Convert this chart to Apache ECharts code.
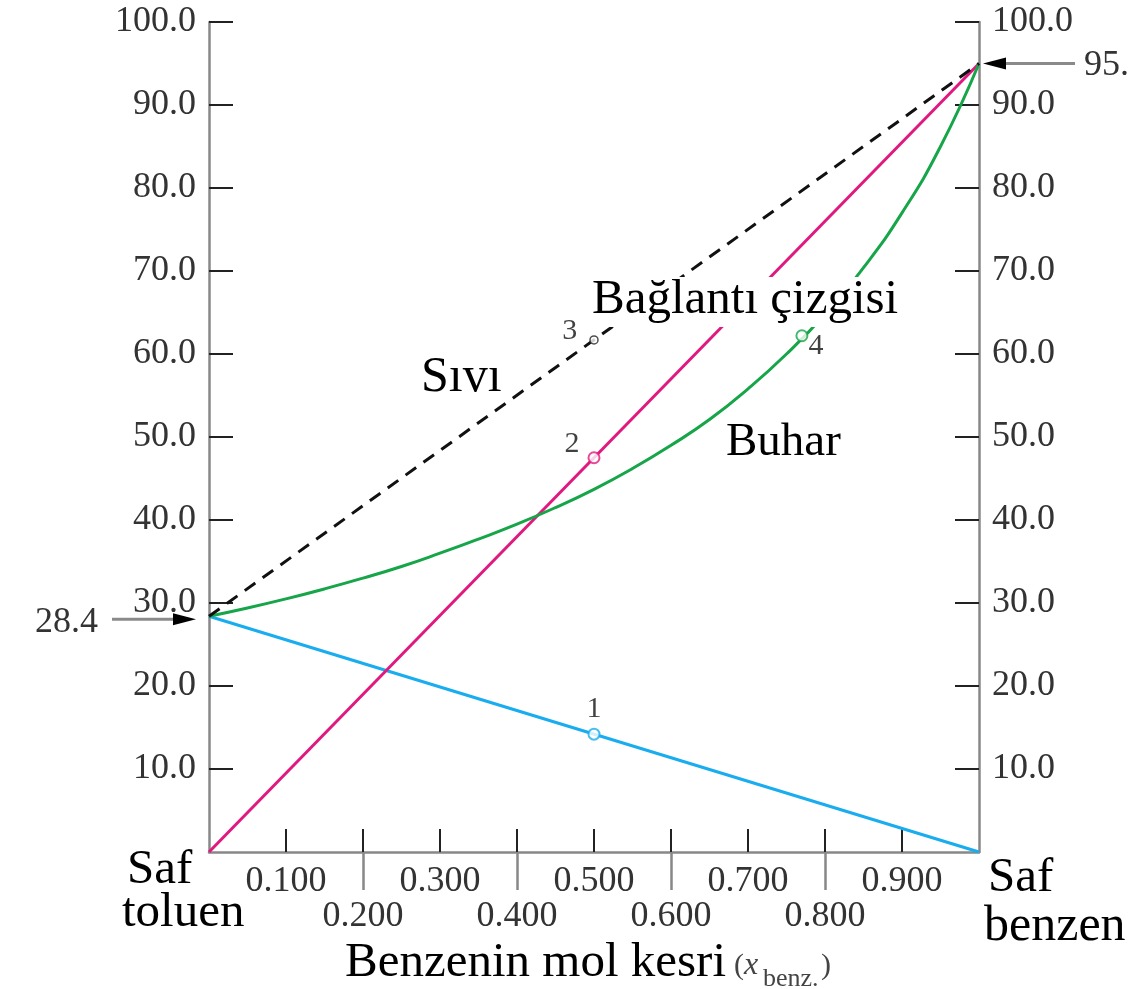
<!DOCTYPE html>
<html>
<head>
<meta charset="utf-8">
<script src="https://cdn.jsdelivr.net/npm/echarts@6/dist/echarts.min.js"></script>
<style>html,body{margin:0;padding:0;background:#fff}#c{width:1134px;height:989px}</style>
</head>
<body>
<div id="c"></div>
<script>
// ---- data ----
var liquidLine = [[0, 28.4], [1, 95]];          // total pressure (liquid, dashed)
var benzenePartial = [[0, 0], [1, 95]];          // pink
var toluenePartial = [[0, 28.4], [1, 0]];        // blue
var vaporCurve = [
  [0, 28.4], [0.05, 29.4], [0.1, 30.5], [0.15, 31.7], [0.2, 33.0], [0.25, 34.4],
  [0.3, 36.0], [0.35, 37.7], [0.4, 39.5], [0.45, 41.5], [0.5, 43.7], [0.55, 46.2],
  [0.6, 49.0], [0.65, 52.1], [0.7, 55.8], [0.75, 60.0], [0.8, 64.8], [0.85, 70.4],
  [0.9, 77.0], [0.95, 85.0], [1, 95]
];
var pointNames = ['1', '2', '3', '4'];
var pointValues = [[0.5, 14.2], [0.5, 47.5], [0.5, 61.7], [0.77, 62.2]];
var xTicks = [0.1, 0.2, 0.3, 0.4, 0.5, 0.6, 0.7, 0.8, 0.9];
var xLabelsOdd = [0.1, 0.3, 0.5, 0.7, 0.9];
var xLabelsEven = [0.2, 0.4, 0.6, 0.8];
var pureToluene = 28.4, pureBenzene = 95;

var SERIF = "'Liberation Serif','Times New Roman',serif";
var BLUE = '#19adf0', PINK = '#e0197f', GREEN = '#16a548', AXIS = '#888', TICK = '#222', LBL = '#333';

var chart = echarts.init(document.getElementById('c'), null, {renderer: 'canvas'});

function yAxisCfg(pos) {
  return {
    type: 'value', min: 0, max: 100, interval: 10, position: pos,
    axisLine: {show: true, onZero: false, lineStyle: {color: AXIS, width: 2.5}},
    axisTick: {show: true, inside: true, length: 24, lineStyle: {color: TICK, width: 2}},
    axisLabel: {showMinLabel: false, formatter: function (v) { return v === 0 ? '' : v.toFixed(1); },
      fontFamily: SERIF, fontSize: 36, color: LBL, margin: 13, padding: [17, 0, 0, 0]},
    splitLine: {show: false}
  };
}

var option = {
  animation: false,
  backgroundColor: '#fff',
  grid: {left: 209, top: 22, right: 155, bottom: 137},
  xAxis: [
    {
      type: 'value', min: 0, max: 1, position: 'bottom',
      axisLine: {show: true, onZero: false, lineStyle: {color: AXIS, width: 2.5}},
      axisTick: {show: true, inside: true, length: 23, customValues: xTicks, lineStyle: {color: TICK, width: 2}},
      axisLabel: {customValues: xLabelsOdd, formatter: function (v) { return v.toFixed(3); }, fontFamily: SERIF, fontSize: 36, color: LBL, margin: 12},
      splitLine: {show: false}
    },
    {
      type: 'value', min: 0, max: 1, position: 'bottom',
      axisLine: {show: false, onZero: false},
      axisTick: {show: true, inside: false, length: 38, customValues: xLabelsEven, lineStyle: {color: AXIS, width: 2.5}},
      axisLabel: {customValues: xLabelsEven, formatter: function (v) { return v.toFixed(3); }, fontFamily: SERIF, fontSize: 36, color: LBL, margin: 47},
      splitLine: {show: false}
    }
  ],
  yAxis: [yAxisCfg('left'), yAxisCfg('right')],
  series: [
    {type: 'line', data: toluenePartial, symbol: 'none', lineStyle: {color: BLUE, width: 3}, z: 2},
    {type: 'line', data: benzenePartial, symbol: 'none', lineStyle: {color: PINK, width: 3}, z: 3},
    {type: 'line', data: vaporCurve, symbol: 'none', smooth: true, lineStyle: {color: GREEN, width: 3}, z: 3},
    {type: 'line', data: liquidLine, symbol: 'none', lineStyle: {color: '#111', width: 3, type: [13, 9]}, z: 4},
    {
      type: 'scatter', z: 10,
      data: [
        {name: pointNames[0], value: pointValues[0], symbolSize: 11, itemStyle: {color: '#fff', borderColor: BLUE, borderWidth: 2},
          label: {position: 'top', distance: 4}},
        {name: pointNames[1], value: pointValues[1], symbolSize: 11, itemStyle: {color: '#fff', borderColor: PINK, borderWidth: 2},
          label: {position: 'left', offset: [0, -14], distance: 8}},
        {name: pointNames[2], value: pointValues[2], symbolSize: 8, itemStyle: {color: '#fff', borderColor: '#222', borderWidth: 1.5},
          label: {position: 'left', offset: [-2, -9], distance: 10}},
        {name: pointNames[3], value: pointValues[3], symbolSize: 11, itemStyle: {color: '#fff', borderColor: GREEN, borderWidth: 2},
          label: {position: 'right', offset: [-2, 10], distance: 2}}
      ],
      label: {show: true, formatter: '{b}', fontFamily: SERIF, fontSize: 30, color: '#111'}
    }
  ]
};
chart.setOption(option);

var pL = chart.convertToPixel({gridIndex: 0}, [0, pureToluene]);
var pR = chart.convertToPixel({gridIndex: 0}, [1, pureBenzene]);

// baseline -> middle conversion for serif text
function txt(t, x, baseline, size, align, extra) {
  var s = {text: t, x: x, y: baseline - 0.3 * size, font: size + 'px ' + SERIF, fill: '#000',
    textAlign: align || 'left', textVerticalAlign: 'middle'};
  if (extra) for (var k in extra) s[k] = extra[k];
  return {type: 'text', z: 100, style: s};
}

chart.setOption({
  graphic: [
    // white box behind the tie-line label
    {type: 'rect', z: 90, shape: {x: 588, y: 277, width: 314, height: 50}, style: {fill: '#fff'}},
    txt('Bağlantı çizgisi', 592, 315, 49),
    txt('Sıvı', 421, 393, 50),
    txt('Buhar', 726, 457, 47),
    txt('Saf', 127, 885, 49),
    txt('toluen', 122, 928, 49),
    txt('Saf', 988, 893, 49),
    txt('benzen', 984, 942, 50),
    txt('Benzenin mol kesri', 345, 978, 49),
    txt('(', 734, 975, 30, 'left', {fill: '#444'}),
    txt('x', 744, 975, 32, 'left', {fill: '#444', font: 'italic 32px ' + SERIF}),
    txt('benz.', 763, 987, 26, 'left', {fill: '#444'}),
    txt(')', 821, 975, 30, 'left', {fill: '#444'}),
    // left arrow 28.4
    {type: 'line', z: 95, shape: {x1: 112, y1: pL[1] + 3, x2: 180, y2: pL[1] + 3}, style: {stroke: '#8a8a8a', lineWidth: 3}},
    {type: 'polygon', z: 96, shape: {points: [[173, pL[1] - 3], [196, pL[1] + 3], [173, pL[1] + 9]]}, style: {fill: '#000'}},
    txt('28.4', 98, pL[1] + 17, 36, 'right', {fill: '#333'}),
    // right arrow 95.
    {type: 'line', z: 95, shape: {x1: 1000, y1: pR[1], x2: 1075, y2: pR[1]}, style: {stroke: '#8a8a8a', lineWidth: 3}},
    {type: 'polygon', z: 96, shape: {points: [[1006, pR[1] - 6], [983, pR[1]], [1006, pR[1] + 6]]}, style: {fill: '#000'}},
    txt('95.', 1084, pR[1] + 13, 36, 'left', {fill: '#333'})
  ]
});
</script>
</body>
</html>
